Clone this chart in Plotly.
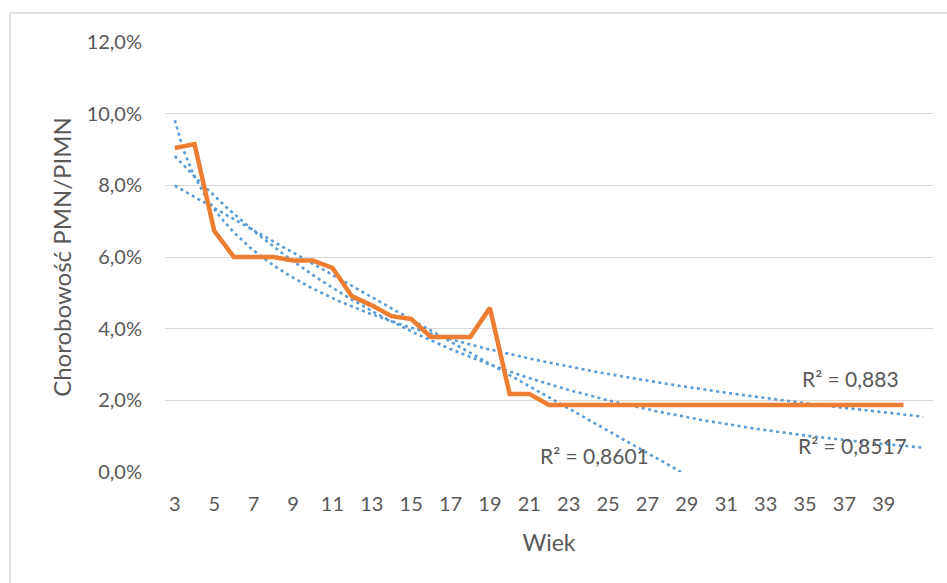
import numpy as np
import plotly.graph_objects as go

# ---- data ----
ages = list(range(3, 41))
rates = [9.04, 9.15, 6.73, 6.00, 6.00, 6.00, 5.90, 5.90, 5.70, 4.90,
         4.65, 4.35, 4.27, 3.77, 3.77, 3.77, 4.58, 2.18, 2.18, 1.87,
         1.87, 1.87, 1.87, 1.87, 1.87, 1.87, 1.87, 1.87, 1.87, 1.87,
         1.87, 1.87, 1.87, 1.87, 1.87, 1.87, 1.87, 1.87]  # percent
x_tick_vals = list(range(3, 41, 2))
y_tick_vals = [0, 0.02, 0.04, 0.06, 0.08, 0.10, 0.12]
r2_labels = ["R² = 0,8601", "R² = 0,883", "R² = 0,8517"]
fit_points = 20        # trendlines fitted on first 20 points
forecast_end = 41      # trendlines extended forward

y = np.array(rates) / 100.0
idx = np.arange(1, len(ages) + 1)
fi = idx[:fit_points]
fy = y[:fit_points]

# linear
b_lin, a_lin = np.polyfit(fi, fy, 1)
# logarithmic
b_log, a_log = np.polyfit(np.log(fi), fy, 1)
# exponential
b_exp, a_exp = np.polyfit(fi, np.log(fy), 1)

xs_age = np.linspace(3, forecast_end, 300)
xs_idx = xs_age - 2
lin = a_lin + b_lin * xs_idx
logt = a_log + b_log * np.log(xs_idx)
expt = np.exp(a_exp + b_exp * xs_idx)

blue = "#5B9BD5"
orange = "#ED7D31"
grey = "#595959"
font = "Lato"

fig = go.Figure()
for trend in (lin, logt, expt):
    fig.add_trace(go.Scatter(x=xs_age, y=trend, mode="lines",
                             line=dict(color=blue, width=2.6, dash="3px,3.5px"),
                             hoverinfo="skip", showlegend=False))
fig.add_trace(go.Scatter(x=ages, y=y, mode="lines",
                         line=dict(color=orange, width=4.5),
                         showlegend=False))

fig.update_layout(
    width=947, height=583,
    margin=dict(l=165, r=14, t=42, b=111),
    paper_bgcolor="white", plot_bgcolor="white",
    separators=", ",
    font=dict(family=font, color=grey, size=20),
    xaxis=dict(range=[2.5, 41.5], tickmode="array", tickvals=x_tick_vals,
               showgrid=False, zeroline=False, showline=False, ticks="",
               ticklabelstandoff=18,
               title=dict(text="Wiek", font=dict(size=23, color=grey), standoff=20)),
    yaxis=dict(range=[0, 0.12], tickmode="array", tickvals=y_tick_vals,
               tickformat=".1%", showgrid=True, gridcolor="#D9D9D9", gridwidth=1.3,
               zeroline=False, showline=False, ticks="", ticklabelstandoff=22,
               title=dict(text="Chorobowość PMN/PIMN", font=dict(size=24, color=grey), standoff=8)),
    shapes=[dict(type="rect", xref="paper", yref="paper",
                 x0=(10 - 165) / 768, x1=(947 - 165 + 20) / 768,
                 y0=-0.5, y1=(472 - 13) / 430,
                 line=dict(color="#D9D9D9", width=1.5), fillcolor="rgba(0,0,0,0)", layer="below")],
)

ann_pos = [(24.3, 0.0047), (37.3, 0.0262), (37.4, 0.0075)]
for (ax, ay), txt in zip(ann_pos, r2_labels):
    fig.add_annotation(x=ax, y=ay, text=txt, showarrow=False,
                       font=dict(size=21, color=grey, family=font))

fig.write_html("out.html")
